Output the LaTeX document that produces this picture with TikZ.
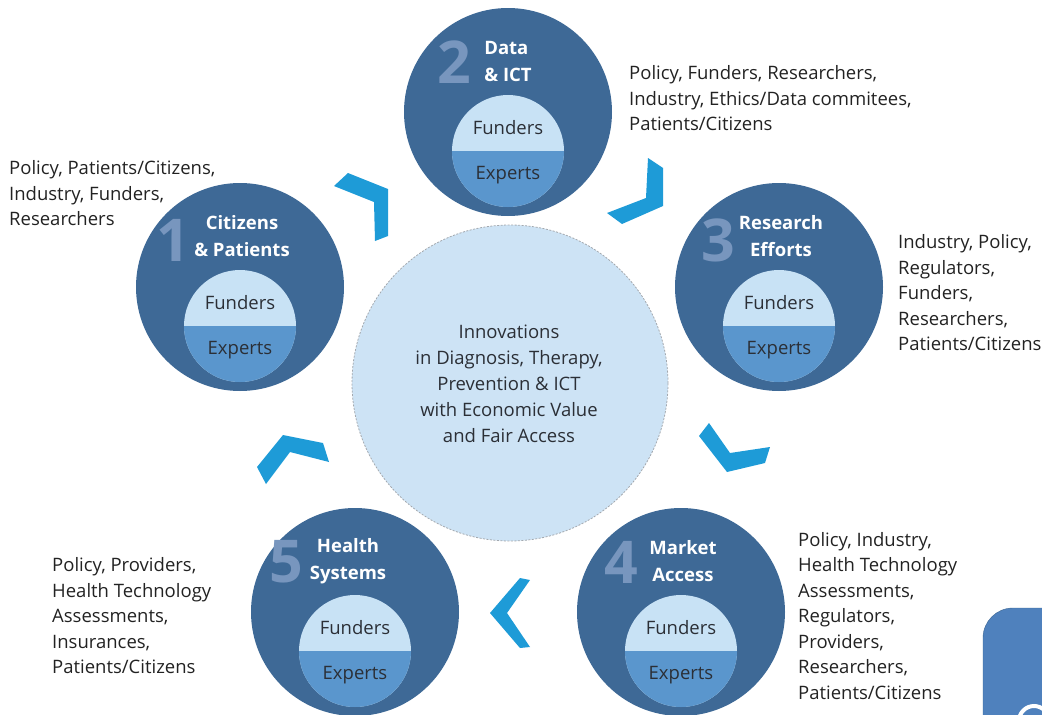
\documentclass[tikz,border=0pt]{standalone}
\usepackage{fontspec}
\setmainfont{Open Sans}
\usepackage{tikz}
\usetikzlibrary{positioning,calc}
\definecolor{stageblue}{HTML}{3E6996}
\definecolor{numeralblue}{HTML}{7896BE}
\definecolor{fundersfill}{HTML}{C8E2F5}
\definecolor{expertsfill}{HTML}{5A96CD}
\definecolor{hubfill}{HTML}{CDE3F5}
\definecolor{hubline}{HTML}{A3A8AE}
\definecolor{chevronblue}{HTML}{1E9BD7}
\definecolor{labelgray}{HTML}{2B2F36}
\definecolor{textgray}{HTML}{222222}
\definecolor{noteblue}{HTML}{4F81BD}
\definecolor{noteline}{HTML}{3A6592}
\tikzset{
	stagedisc/.style = {fill=stageblue, circle, minimum size=208pt, inner sep=0pt, outer sep=0pt},
	paneldisc/.style = {fill=fundersfill, circle, minimum size=112pt, inner sep=0pt, outer sep=0pt},
	hubdisc/.style = {draw=hubline, dash pattern=on 2pt off 1.5pt, line width=0.8pt, fill=hubfill, circle, minimum size=316pt, inner sep=0pt},
	hubtext/.style = {text=labelgray, font=\fontsize{18.5}{26}\selectfont, align=center, inner sep=0pt},
	numeral/.style = {text=numeralblue, font=\fontsize{59}{59}\selectfont\bfseries, inner sep=0pt},
	stagetitle/.style = {text=white, font=\fontsize{18.5}{27}\selectfont\bfseries, align=center, inner sep=0pt},
	panellabel/.style = {text=labelgray, font=\fontsize{18.5}{20}\selectfont, inner sep=0pt},
	actors/.style = {text=textgray, font=\fontsize{18.5}{25.5}\selectfont, align=left, inner sep=0pt, anchor=west},
	chevronarrow/.style = {fill=chevronblue, draw=none}
}

\begin{document}
\begin{tikzpicture}[x=1pt, y=-1pt]
    \useasboundingbox (0,0) rectangle (1042,715);
    \clip (0,0) rectangle (1042,715);

    % goal in the middle
    \node [hubdisc] (goal) at (510,383) {};
    \node [hubtext] (goaltext) at (509,384) {Innovations\\in Diagnosis, Therapy,\\Prevention \& ICT\\with Economic Value\\and Fair Access};

    % 1 citizens
    \node [stagedisc] (citizens) at (240,287) {};
    \node [paneldisc, below of=citizens, node distance=39pt] (citizenspanel) {};
    \fill [expertsfill] (citizenspanel.west) arc (180:0:56) -- cycle;
    \node [panellabel, above of=citizenspanel, node distance=23pt] (citizensfunders) {Funders};
    \node [panellabel, below of=citizenspanel, node distance=24pt] (citizensexperts) {Experts};
    \node [numeral] (citizensnum) at ($(citizens)+(-67,-47)$) {1};
    \node [stagetitle, above of=citizens, node distance=51pt, xshift=2pt] (citizenstitle) {Citizens\\\& Patients};

    % 2 data
    \node [stagedisc] (data) at (508,112) {};
    \node [paneldisc, below of=data, node distance=39pt] (datapanel) {};
    \fill [expertsfill] (datapanel.west) arc (180:0:56) -- cycle;
    \node [panellabel, above of=datapanel, node distance=23pt] (datafunders) {Funders};
    \node [panellabel, below of=datapanel, node distance=24pt] (dataexperts) {Experts};
    \node [numeral] (datanum) at ($(data)+(-54,-50)$) {2};
    \node [stagetitle, align=left, above of=data, node distance=51pt] (datatitle) {Data\\\& ICT};

    % 3 research
    \node [stagedisc] (research) at (779,287) {};
    \node [paneldisc, below of=research, node distance=39pt] (researchpanel) {};
    \fill [expertsfill] (researchpanel.west) arc (180:0:56) -- cycle;
    \node [panellabel, above of=researchpanel, node distance=23pt] (researchfunders) {Funders};
    \node [panellabel, below of=researchpanel, node distance=24pt] (researchexperts) {Experts};
    \node [numeral] (researchnum) at ($(research)+(-61,-47)$) {3};
    \node [stagetitle, above of=research, node distance=51pt, xshift=2pt] (researchtitle) {Research\\Efforts};

    % 4 market
    \node [stagedisc] (market) at (681,612) {};
    \node [paneldisc, below of=market, node distance=39pt] (marketpanel) {};
    \fill [expertsfill] (marketpanel.west) arc (180:0:56) -- cycle;
    \node [panellabel, above of=marketpanel, node distance=23pt] (marketfunders) {Funders};
    \node [panellabel, below of=marketpanel, node distance=24pt] (marketexperts) {Experts};
    \node [numeral] (marketnum) at ($(market)+(-60,-50)$) {4};
    \node [stagetitle, above of=market, node distance=51pt, xshift=2pt] (markettitle) {Market\\Access};

    % 5 health
    \node [stagedisc] (health) at (355,612) {};
    \node [paneldisc, below of=health, node distance=39pt] (healthpanel) {};
    \fill [expertsfill] (healthpanel.west) arc (180:0:56) -- cycle;
    \node [panellabel, above of=healthpanel, node distance=23pt] (healthfunders) {Funders};
    \node [panellabel, below of=healthpanel, node distance=24pt] (healthexperts) {Experts};
    \node [numeral] (healthnum) at ($(health)+(-69,-50)$) {5};
    \node [stagetitle, above of=health, node distance=51pt, xshift=-7pt] (healthtitle) {Health\\Systems};

    % chevrons round the cycle
    \fill [chevronarrow] (334,186) -- (348,173) -- (388,189) -- (388,236) -- (375,241) -- (374,202) -- cycle;
    \fill [chevronarrow] (648,158) -- (663,168) -- (663,206) -- (622,224) -- (607,213) -- (646,198) -- cycle;
    \fill [chevronarrow] (699,436) -- (709,423) -- (730,453) -- (770,447) -- (765,463) -- (727,472) -- cycle;
    \fill [chevronarrow] (490,613) -- (520,578) -- (530,580) -- (507,613) -- (530,647) -- (520,648) -- cycle;
    \fill [chevronarrow] (257,467) -- (283,435) -- (323,443) -- (329,462) -- (290,452) -- (266,484) -- cycle;

    % who takes part
    \node [actors] (citizensactors) at (9,193.5) {Policy, Patients/Citizens,\\Industry, Funders,\\Researchers};
    \node [actors] (dataactors) at (629,98.5) {Policy, Funders, Researchers,\\Industry, Ethics/Data commitees,\\Patients/Citizens};
    \node [actors] (researchactors) at (898,293) {Industry, Policy,\\Regulators,\\Funders,\\Researchers,\\Patients/Citizens};
    \node [actors] (marketactors) at (798,616) {Policy, Industry,\\Health Technology\\Assessments,\\Regulators,\\Providers,\\Researchers,\\Patients/Citizens};
    \node [actors] (healthactors) at (52,616) {Policy, Providers,\\Health Technology\\Assessments,\\Insurances,\\Patients/Citizens};

    % cut off box in the corner
    \filldraw [fill=noteblue, draw=noteline, rounded corners=30pt] (983,608) rectangle (1090,770);
    \draw [white, line width=4pt] (1034,721) circle (15);
\end{tikzpicture}
\end{document}
